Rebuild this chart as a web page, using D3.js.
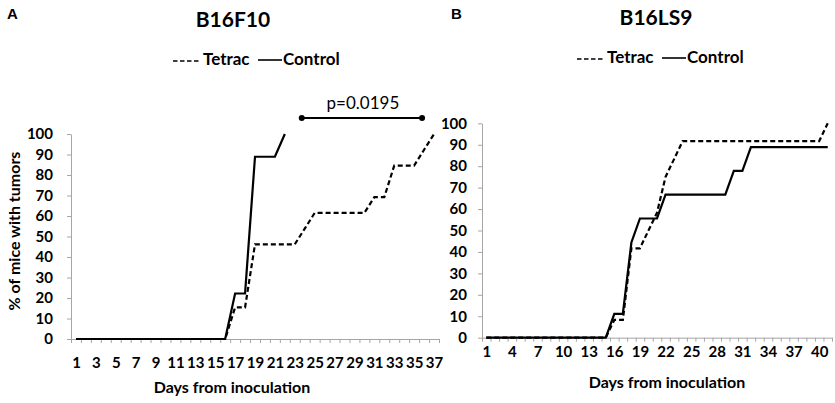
<!DOCTYPE html>
<html>
<head>
<meta charset="utf-8">
<script src="https://cdn.jsdelivr.net/npm/d3@7"></script>
<style>
  body { margin: 0; background: #fff; }
  text { font-family: Lato, "Open Sans", sans-serif; fill: #000; }
  .axis path, .axis line { stroke: #a6a6a6; stroke-width: 1; }
  .axis text { font-size: 15px; font-weight: bold; }
</style>
</head>
<body>
<div id="chart"></div>
<script>
// Panel A - B16F10 (days 1-37)
var daysA = d3.range(1, 38);
var xLabelsA = [1, 3, 5, 7, 9, 11, 13, 15, 17, 19, 21, 23, 25, 27, 29, 31, 33, 35, 37];
var tetracA = [0, 0, 0, 0, 0, 0, 0, 0, 0, 0, 0, 0, 0, 0, 0, 0,
    15.4, 15.4, 46.2, 46.2, 46.2, 46.2, 46.2, 53.8,
    61.5, 61.5, 61.5, 61.5, 61.5, 61.5, 69.2, 69.2,
    84.6, 84.6, 84.6, 92.3, 100];
var controlA = [0, 0, 0, 0, 0, 0, 0, 0, 0, 0, 0, 0, 0, 0, 0, 0,
    22.2, 22.2, 88.9, 88.9, 88.9, 100];

// Panel B - B16LS9 (days 1-41)
var daysB = d3.range(1, 42);
var xLabelsB = [1, 4, 7, 10, 13, 16, 19, 22, 25, 28, 31, 34, 37, 40];
var tetracB = [0, 0, 0, 0, 0, 0, 0, 0, 0, 0, 0, 0, 0, 0, 0,
    8.3, 8.3, 41.7, 41.7, 50, 58.3, 75, 83.3,
    91.7, 91.7, 91.7, 91.7, 91.7, 91.7, 91.7, 91.7, 91.7,
    91.7, 91.7, 91.7, 91.7, 91.7, 91.7, 91.7, 91.7, 100];
var controlB = [0, 0, 0, 0, 0, 0, 0, 0, 0, 0, 0, 0, 0, 0, 0,
    11.1, 11.1, 44.4, 55.6, 55.6, 55.6,
    66.7, 66.7, 66.7, 66.7, 66.7, 66.7, 66.7, 66.7,
    77.8, 77.8, 88.9, 88.9, 88.9, 88.9, 88.9, 88.9, 88.9, 88.9, 88.9, 88.9];

var yTicks = [0, 10, 20, 30, 40, 50, 60, 70, 80, 90, 100];

// p-value bracket for panel A (in day units)
var pText = "p=0.0195";
var pSpan = [23.7, 35.8];

var svgWidth = 835;
var svgHeight = 403;

var svg = d3.select("#chart")
    .append("svg")
    .attr("width", svgWidth)
    .attr("height", svgHeight);

function drawPanel(cfg) {
    var g = svg.append("g");

    var xScale = d3.scaleLinear()
        .domain([0.5, cfg.days.length + 0.5])
        .range([cfg.left, cfg.right]);

    var yScale = d3.scaleLinear()
        .domain([0, 100])
        .range([cfg.bottom, cfg.top]);

    // y axis with ticks
    g.append("g")
        .attr("class", "axis")
        .attr("transform", `translate(${cfg.left},0)`)
        .call(d3.axisLeft(yScale).tickValues(yTicks).tickSize(4).tickPadding(cfg.yPad).tickSizeOuter(0));

    // x axis tick marks between categories
    var bounds = cfg.days.map(d => d - 0.5).concat([cfg.days.length + 0.5]);
    g.append("g")
        .attr("class", "axis")
        .attr("transform", `translate(0,${cfg.bottom})`)
        .call(d3.axisBottom(xScale).tickValues(bounds).tickSize(4).tickSizeOuter(0).tickFormat(""));

    // x labels on category centres
    var lab = g.append("g")
        .attr("class", "axis")
        .attr("transform", `translate(0,${cfg.bottom})`)
        .call(d3.axisBottom(xScale).tickValues(cfg.labels).tickSize(0).tickPadding(cfg.xPad).tickFormat(d3.format("d")));
    lab.select(".domain").remove();

    var line = d3.line()
        .x((d, i) => xScale(i + 1))
        .y(d => yScale(d));

    g.append("path")
        .datum(cfg.tetrac)
        .attr("d", line)
        .attr("fill", "none")
        .attr("stroke", "#000")
        .attr("stroke-width", 2.2)
        .attr("stroke-dasharray", "5,3");

    g.append("path")
        .datum(cfg.control)
        .attr("d", line)
        .attr("fill", "none")
        .attr("stroke", "#000")
        .attr("stroke-width", 2.2);

    // panel letter + title
    svg.append("text")
        .attr("x", cfg.letterX).attr("y", 19)
        .style("font-family", "'Liberation Sans', Arial, sans-serif")
        .style("font-size", "15px").style("font-weight", "bold")
        .text(cfg.letter);

    svg.append("text")
        .attr("x", cfg.titleX).attr("y", cfg.titleY)
        .attr("text-anchor", "middle")
        .style("font-size", "21px").style("font-weight", "bold")
        .text(cfg.title);

    // legend
    var ly = cfg.legendY;
    svg.append("line")
        .attr("x1", cfg.legendX).attr("x2", cfg.legendX + 27)
        .attr("y1", ly - 4).attr("y2", ly - 4)
        .attr("stroke", "#000").attr("stroke-width", 1.6)
        .attr("stroke-dasharray", "4.5,2.5");
    svg.append("text")
        .attr("x", cfg.legendX + 30).attr("y", ly)
        .style("font-size", "17px").style("font-weight", "bold")
        .text("Tetrac");
    svg.append("line")
        .attr("x1", cfg.legendX + 85).attr("x2", cfg.legendX + 109)
        .attr("y1", ly - 5).attr("y2", ly - 5)
        .attr("stroke", "#000").attr("stroke-width", 1.6);
    svg.append("text")
        .attr("x", cfg.legendX + 110).attr("y", ly)
        .style("font-size", "17px").style("font-weight", "bold")
        .text("Control");

    // x axis title
    svg.append("text")
        .attr("x", cfg.xTitleX).attr("y", cfg.xTitleY)
        .attr("text-anchor", "middle")
        .style("font-size", "16px").style("font-weight", "bold")
        .text("Days from inoculation");

    return { x: xScale, y: yScale, g: g };
}

var panelA = drawPanel({
    days: daysA, labels: xLabelsA, tetrac: tetracA, control: controlA,
    left: 71, right: 439, top: 134, bottom: 339, yPad: 14, xPad: 18,
    letter: "A", letterX: 7, title: "B16F10", titleX: 233, titleY: 27,
    legendX: 173, legendY: 65, xTitleX: 232, xTitleY: 393
});

var panelB = drawPanel({
    days: daysB, labels: xLabelsB, tetrac: tetracB, control: controlB,
    left: 482, right: 832, top: 123.3, bottom: 337.7, yPad: 11, xPad: 9,
    letter: "B", letterX: 451, title: "B16LS9", titleX: 656, titleY: 25,
    legendX: 577, legendY: 63, xTitleX: 667, xTitleY: 388
});

// y axis title (panel A only)
svg.append("text")
    .attr("transform", "rotate(-90)")
    .attr("x", -231).attr("y", 20)
    .attr("text-anchor", "middle")
    .style("font-size", "16px").style("font-weight", "bold")
    .text("% of mice with tumors");

// significance bracket
var by = 118;
panelA.g.append("line")
    .attr("x1", panelA.x(pSpan[0])).attr("x2", panelA.x(pSpan[1]))
    .attr("y1", by).attr("y2", by)
    .attr("stroke", "#000").attr("stroke-width", 2);
panelA.g.selectAll(".pdot")
    .data(pSpan)
    .enter()
    .append("circle")
    .attr("cx", d => panelA.x(d))
    .attr("cy", by)
    .attr("r", 3)
    .attr("fill", "#000");
panelA.g.append("text")
    .attr("x", d3.mean(pSpan, d => panelA.x(d)) + 1)
    .attr("y", 109)
    .attr("text-anchor", "middle")
    .style("font-size", "17px")
    .text(pText);
</script>
</body>
</html>
